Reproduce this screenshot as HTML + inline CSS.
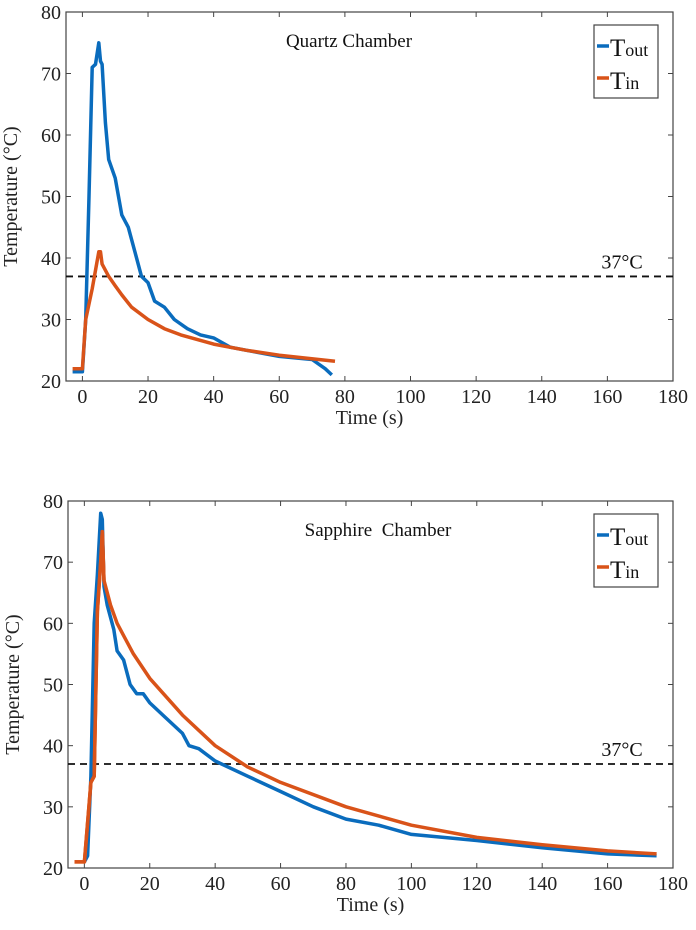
<!DOCTYPE html>
<html><head><meta charset="utf-8"><style>
html,body{margin:0;padding:0;background:#fff;}
svg{display:block;font-family:"Liberation Serif",serif;}
</style></head><body>
<svg id="s" width="696" height="930" viewBox="0 0 696 930" xmlns="http://www.w3.org/2000/svg"></svg>
<script>
const s=document.getElementById('s');
let h='';
function plot(L,T,R,B,tout,tin,title,tx){
 const X=v=>L+(v+5)*(R-L)/185, Y=v=>B-(v-20)*(B-T)/60;
 h+=`<rect x="${L}" y="${T}" width="${R-L}" height="${B-T}" fill="#fff" stroke="#444" stroke-width="1.2"/>`;
 for(let v=0;v<=180;v+=20){const x=X(v);
  h+=`<line x1="${x}" y1="${B}" x2="${x}" y2="${B-5}" stroke="#444"/><line x1="${x}" y1="${T}" x2="${x}" y2="${T+5}" stroke="#444"/>`;
  h+=`<text x="${x}" y="${B+22}" font-size="20" text-anchor="middle" fill="#222">${v}</text>`;}
 for(let v=20;v<=80;v+=10){const y=Y(v);
  h+=`<line x1="${L}" y1="${y}" x2="${L+5}" y2="${y}" stroke="#444"/><line x1="${R}" y1="${y}" x2="${R-5}" y2="${y}" stroke="#444"/>`;
  h+=`<text x="${L-5}" y="${y+7}" font-size="20" text-anchor="end" fill="#222">${v}</text>`;}
 h+=`<text x="${(L+R)/2}" y="${B+43}" font-size="20" text-anchor="middle" fill="#222">Time (s)</text>`;
 h+=`<text transform="translate(${L-49},${(T+B)/2}) rotate(-90)" font-size="20" text-anchor="middle" fill="#222">Temperature (°C)</text>`;
 h+=`<line x1="${L}" y1="${Y(37)}" x2="${R}" y2="${Y(37)}" stroke="#111" stroke-width="1.8" stroke-dasharray="7,5"/>`;
 h+=`<text x="622" y="${Y(37)-8}" font-size="20" text-anchor="middle" fill="#111">37°C</text>`;
 h+=`<text x="${tx}" y="${T+35}" font-size="19" text-anchor="middle" fill="#111">${title}</text>`;
 const p=(d,c)=>{h+=`<polyline fill="none" stroke="${c}" stroke-width="3.5" stroke-linejoin="round" points="${d.map(q=>X(q[0]).toFixed(1)+','+Y(q[1]).toFixed(1)).join(' ')}"/>`;};
 p(tout,'#0a6cbd'); p(tin,'#d95319');
 if(title[0]=='S'){p(tin.slice(0,8),'#d95319');}
 const lx=594,ly=T+13;
 h+=`<rect x="${lx}" y="${ly}" width="64" height="73" fill="#fff" stroke="#444" stroke-width="1.2"/>`;
 h+=`<line x1="${lx+3}" y1="${ly+21}" x2="${lx+15}" y2="${ly+21}" stroke="#0a6cbd" stroke-width="3.5"/>`;
 h+=`<line x1="${lx+3}" y1="${ly+53}" x2="${lx+15}" y2="${ly+53}" stroke="#d95319" stroke-width="3.5"/>`;
 h+=`<text x="${lx+16}" y="${ly+31}" font-size="25" fill="#111">T<tspan font-size="18">out</tspan></text>`;
 h+=`<text x="${lx+16}" y="${ly+64}" font-size="25" fill="#111">T<tspan font-size="18">in</tspan></text>`;
}
plot(66,12,673,381,
[[-3,21.5],[0,21.5],[1,30],[2,50],[3,71],[4,71.5],[5,75],[5.5,72],[6,71.5],[7,62],[8,56],[10,53],[12,47],[14,45],[16,41],[18,37],[20,36],[22,33],[25,32],[28,30],[32,28.5],[36,27.5],[40,27],[45,25.5],[50,25],[60,24],[70,23.5],[74,22],[76,21]],
[[-3,22],[0,22],[1,30],[3,35],[4,38],[5,41],[5.5,41],[6,39],[8,37],[10,35.5],[12,34],[15,32],[20,30],[25,28.5],[30,27.5],[40,26],[50,25],[60,24.2],[77,23.2]],
'Quartz Chamber',349);
plot(68,501,673,868,
[[0,21],[1,22],[2,35],[3,60],[4,68],[5,78],[5.5,77],[6,66],[7,63],[9,59],[10,55.5],[12,54],[14,50],[16,48.5],[18,48.5],[20,47],[25,44.5],[30,42],[32,40],[35,39.5],[40,37.5],[50,35],[60,32.5],[70,30],[80,28],[90,27],[100,25.5],[120,24.5],[140,23.3],[160,22.3],[175,22]],
[[-3,21],[0,21],[2,34],[3,35],[4,62],[5,70],[5.5,75],[6,67],[8,63],[10,60],[12,58],[15,55],[20,51],[25,48],[30,45],[40,40],[50,36.5],[60,34],[80,30],[100,27],[120,25],[140,23.8],[160,22.8],[175,22.3]],
'Sapphire&#160;&#160;Chamber',378);
s.innerHTML=h;
</script>
</body></html>
